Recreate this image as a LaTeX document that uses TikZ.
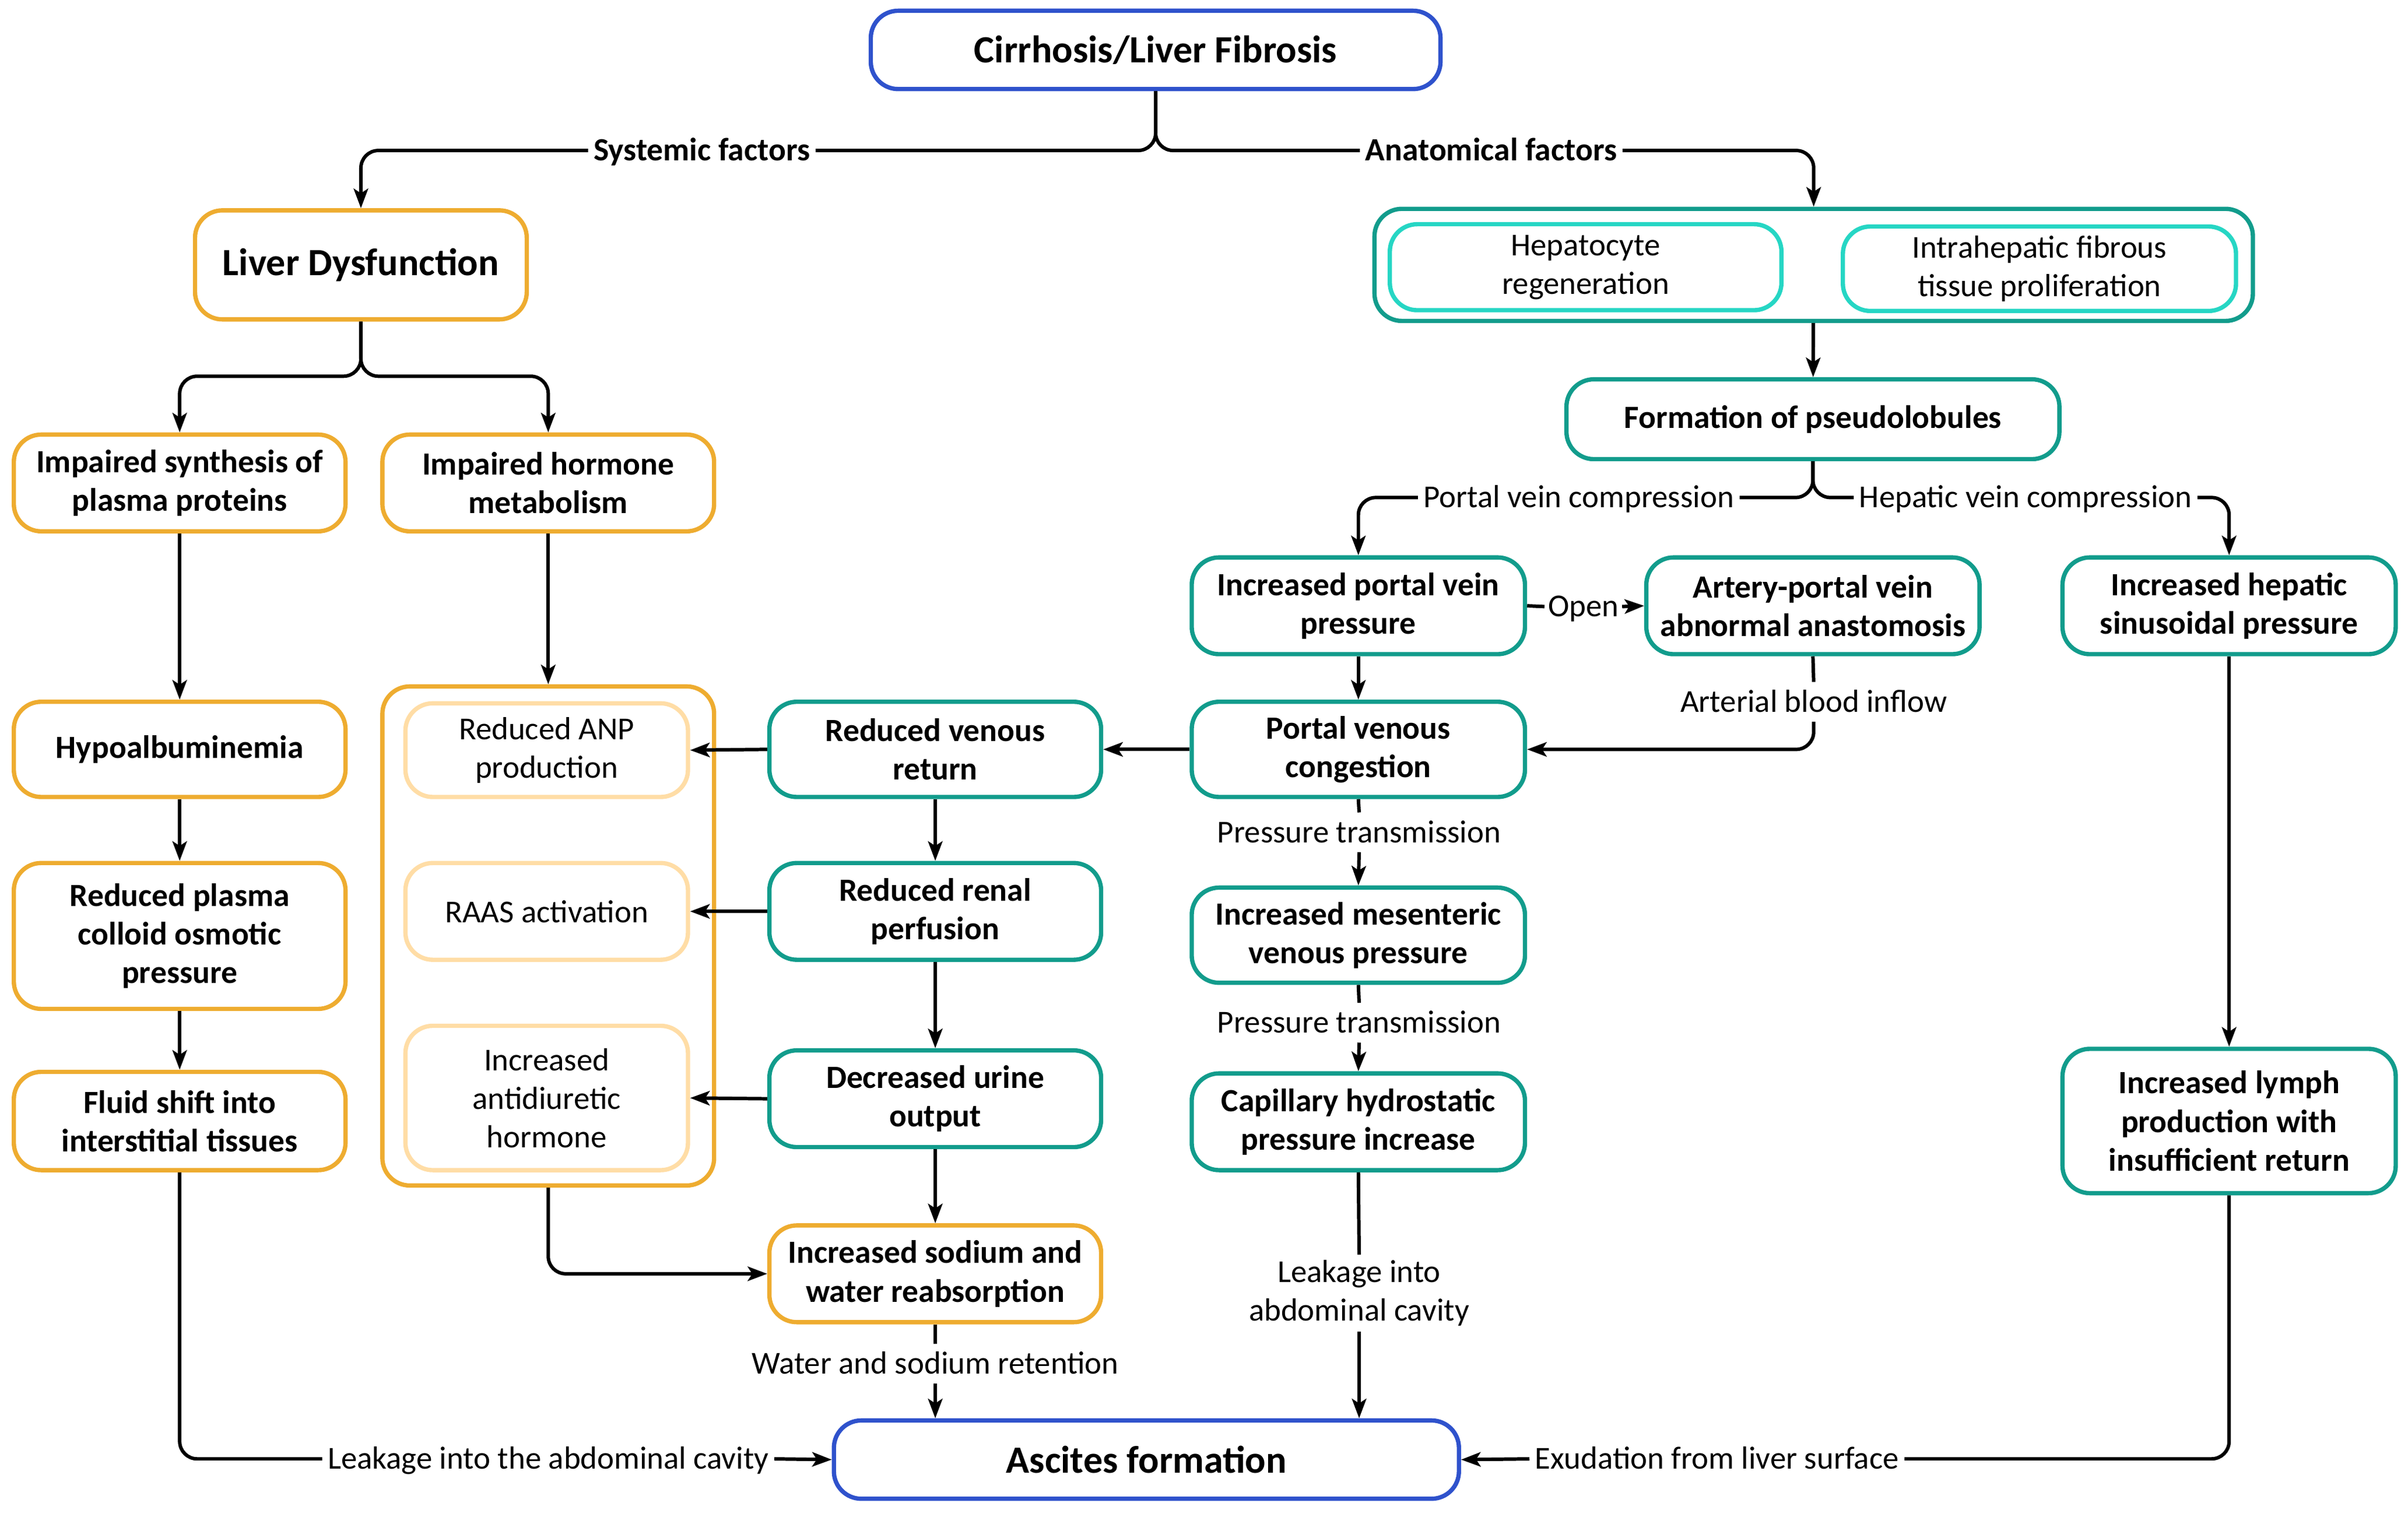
\documentclass[tikz,border=0pt]{standalone}
\usepackage{fontspec}
\setmainfont{Carlito}
\usetikzlibrary{arrows.meta}
\definecolor{cblue}{RGB}{47,82,204}
\definecolor{corange}{RGB}{238,172,48}
\definecolor{cteal}{RGB}{18,156,140}
\definecolor{ccyan}{RGB}{38,214,196}
\definecolor{clight}{RGB}{255,221,166}
\begin{document}
\begin{tikzpicture}[x=0.02634cm,y=-0.02634cm,
  box/.style={draw, line width=2.1pt, rounded corners=0.47cm, fill=white, align=center, inner sep=0pt,
    font=\fontsize{15.8pt}{18.8pt}\selectfont\bfseries},
  big/.style={font=\fontsize{18.8pt}{22pt}\selectfont\bfseries},
  reg/.style={font=\fontsize{15.6pt}{18.8pt}\selectfont},
  sz/.style 2 args={minimum width=#1*0.02634cm, minimum height=#2*0.02634cm},
  bluebox/.style={box, draw=cblue},
  orbox/.style={box, draw=corange},
  tealbox/.style={box, draw=cteal},
  cyanbox/.style={box, draw=ccyan, reg},
  lightbox/.style={box, draw=clight, reg},
  mlab/.style={inner sep=2.5pt, align=center, font=\fontsize{15.6pt}{18.8pt}\selectfont},
  lab/.style={mlab, text height=12pt, text depth=2pt},
  blab/.style={lab, font=\fontsize{15.8pt}{18.8pt}\selectfont\bfseries},
  ln/.style={line width=1.7pt, black},
  arr/.style={ln, -{Stealth[length=9.5pt,width=7pt,inset=2.2pt]}},
  rc/.style={rounded corners=0.3cm}
]
\useasboundingbox (0,0) rectangle (1568,987.85);

% ---- top ----
\node[bluebox, big, sz={371}{51}] (title) at (752.5,32.5) {Cirrhosis/Liver Fibrosis};
\node[blab] (sys) at (457,98) {Systemic factors};
\node[blab] (ana) at (971,98) {Anatomical factors};

% ---- left (systemic) ----
\node[orbox, big, sz={216}{71}] (ld) at (235,172.5) {Liver Dysfunction};
\node[orbox, sz={216}{63}] (synth) at (117,314.5) {Impaired synthesis of\\plasma proteins};
\node[orbox, sz={216}{63}] (horm) at (357,314.5) {Impaired hormone\\metabolism};
\node[orbox, sz={216}{62}] (hypo) at (117,488) {Hypoalbuminemia};
\node[orbox, sz={216}{95}] (colloid) at (117,609.5) {Reduced plasma\\colloid osmotic\\pressure};
\node[orbox, sz={216}{64}] (fluid) at (117,730) {Fluid shift into\\interstitial tissues};
\node[orbox, sz={216}{325}] (bigbox) at (357,609.5) {};
\node[lightbox, sz={184}{61}] (anp) at (356,488.5) {Reduced ANP\\production};
\node[lightbox, sz={184}{63}] (raas) at (356,593.5) {RAAS activation};
\node[lightbox, sz={184}{94}] (adh) at (356,715) {Increased\\antidiuretic\\hormone};
\node[orbox, sz={216}{63}] (sodium) at (609,829.5) {Increased sodium and\\water reabsorption};

% ---- middle / right (anatomical) ----
\node[tealbox, sz={572}{73}] (anat) at (1181,172.5) {};
\node[cyanbox, sz={255}{56}] (hep) at (1032.5,174) {Hepatocyte\\regeneration};
\node[cyanbox, sz={256}{55}] (fib) at (1328,175) {Intrahepatic fibrous\\tissue proliferation};
\node[tealbox, sz={321}{52}] (form) at (1180.5,273) {Formation of pseudolobules};
\node[lab] (pvcomp) at (1028,324) {Portal vein compression};
\node[lab] (hvcomp) at (1319,324) {Hepatic vein compression};
\node[tealbox, sz={217}{63}] (ipvp) at (884.5,394.5) {Increased portal vein\\pressure};
\node[tealbox, sz={217}{63}] (anast) at (1180.5,394.5) {Artery-portal vein\\abnormal anastomosis};
\node[tealbox, sz={217}{63}] (hsp) at (1451.5,394.5) {Increased hepatic\\sinusoidal pressure};
\node[lab, inner sep=1.5pt] (open) at (1031,395) {Open};
\node[lab] (abi) at (1181,457) {Arterial blood inflow};
\node[tealbox, sz={217}{62}] (pvc) at (884.5,488) {Portal venous\\congestion};
\node[tealbox, sz={216}{62}] (rvr) at (609,488) {Reduced venous\\return};
\node[tealbox, sz={216}{63}] (rrp) at (609,593.5) {Reduced renal\\perfusion};
\node[tealbox, sz={216}{63}] (duo) at (609,715.5) {Decreased urine\\output};
\node[lab] (pt1) at (885,542) {Pressure transmission};
\node[tealbox, sz={217}{62}] (mes) at (884.5,609) {Increased mesenteric\\venous pressure};
\node[lab] (pt2) at (885,666) {Pressure transmission};
\node[tealbox, sz={217}{63}] (cap) at (884.5,730.5) {Capillary hydrostatic\\pressure increase};
\node[tealbox, sz={217}{94}] (lymph) at (1451.5,730) {Increased lymph\\production with\\insufficient return};
\node[mlab] (leak2) at (885,842) {Leakage into\\abdominal cavity};
\node[lab] (wsr) at (609,888) {Water and sodium retention};

% ---- bottom ----
\node[bluebox, big, sz={407}{51}] (asc) at (746.5,950.5) {Ascites formation};
\node[lab] (leak1) at (357,950) {Leakage into the abdominal cavity};
\node[lab] (exud) at (1118,950) {Exudation from liver surface};

% ---- connectors ----
\draw[ln, rc] (title.south) |- (sys.east);
\draw[ln, rc] (title.south) |- (ana.west);
\draw[arr, rc] (sys.west) -| (ld.north);
\draw[arr, rc] (ana.east) -| (anat.north);

\coordinate (lds) at (235,245);
\draw[arr, rc] (ld.south) -- (lds) -| (synth.north);
\draw[arr, rc] (ld.south) -- (lds) -| (horm.north);
\draw[arr] (synth) -- (hypo);
\draw[arr] (hypo) -- (colloid);
\draw[arr] (colloid) -- (fluid);
\draw[arr] (horm) -- (bigbox);

\draw[arr] (anat) -- (form);
\draw[ln, rc] (form.south) |- (pvcomp.east);
\draw[ln, rc] (form.south) |- (hvcomp.west);
\draw[arr, rc] (pvcomp.west) -| (ipvp.north);
\draw[arr, rc] (hvcomp.east) -| (hsp.north);

\draw[ln] (ipvp.east) -- (open.west);
\draw[arr] (open.east) -- (anast.west);
\draw[arr] (ipvp) -- (pvc);
\draw[ln] (anast.south) -- (abi.north);
\draw[arr, rc] (abi.south) |- (pvc.east);
\draw[arr] (pvc.west) -- (rvr.east);
\draw[arr] (rvr.west) -- (anp.east);
\draw[arr] (rrp.west) -- (raas.east);
\draw[arr] (duo.west) -- (adh.east);
\draw[arr] (rvr) -- (rrp);
\draw[arr] (rrp) -- (duo);
\draw[arr] (duo) -- (sodium);
\draw[arr, rc] (bigbox.south) |- (sodium.west);

\draw[ln] (pvc.south) -- (pt1.north);
\draw[arr] (pt1.south) -- (mes.north);
\draw[ln] (mes.south) -- (pt2.north);
\draw[arr] (pt2.south) -- (cap.north);
\draw[ln] (cap.south) -- (leak2.north);
\draw[arr] (leak2.south) -- (leak2.south |- asc.north);
\draw[ln] (sodium.south) -- (wsr.north);
\draw[arr] (wsr.south) -- (wsr.south |- asc.north);

\draw[arr] (hsp) -- (lymph);
\draw[ln, rc] (fluid.south) |- (leak1.west);
\draw[arr] (leak1.east) -- (asc.west);
\draw[ln, rc] (lymph.south) |- (exud.east);
\draw[arr] (exud.west) -- (asc.east);
\end{tikzpicture}
\end{document}
